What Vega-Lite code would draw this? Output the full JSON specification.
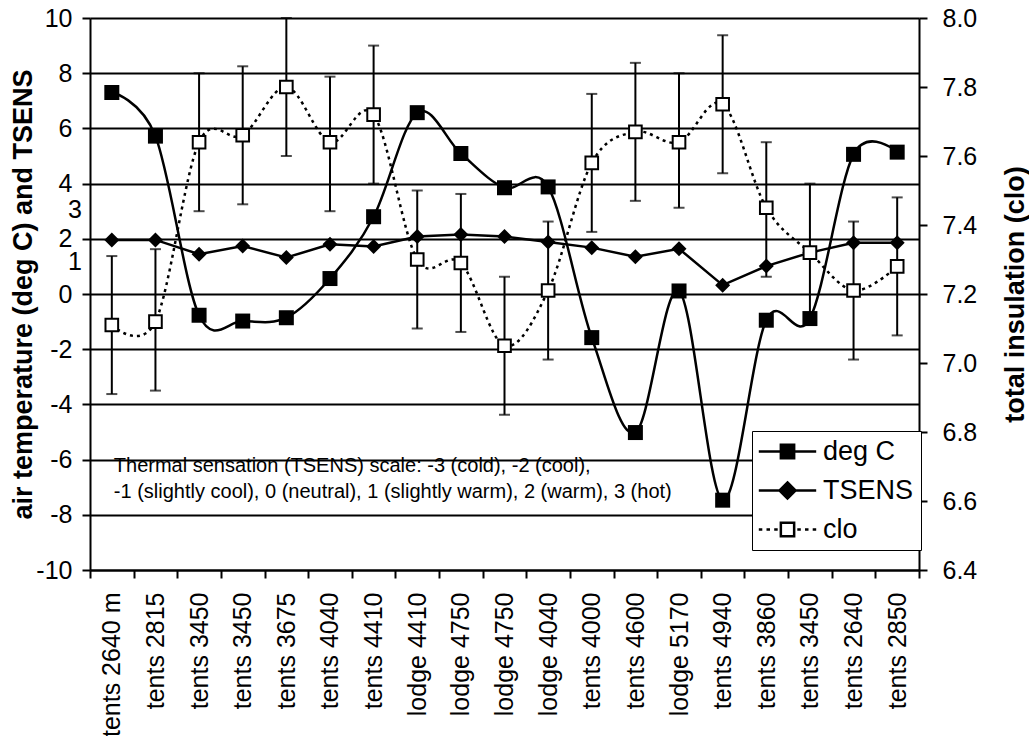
{
  "$schema": "https://vega.github.io/schema/vega-lite/v6.json",
  "width": 829,
  "height": 552,
  "autosize": {"type": "none"},
  "padding": {"left": 90, "top": 18, "right": 110, "bottom": 166},
  "background": "white",
  "config": {
    "font": "Liberation Sans",
    "view": {"stroke": null},
    "axis": {"labelColor": "black", "titleColor": "black", "domainColor": "black", "tickColor": "black", "labelFont": "Liberation Sans", "titleFont": "Liberation Sans"}
  },
  "datasets": {
    "main": [
      {"key": "00|tents 2640 m", "degC": 7.3, "tsens": 1.96, "clo": 7.11, "cloLo": 6.91, "cloHi": 7.31},
      {"key": "01|tents 2815", "degC": 5.72, "tsens": 1.96, "clo": 7.12, "cloLo": 6.92, "cloHi": 7.33},
      {"key": "02|tents 3450", "degC": -0.77, "tsens": 1.44, "clo": 7.64, "cloLo": 7.44, "cloHi": 7.84},
      {"key": "03|tents 3450", "degC": -0.98, "tsens": 1.74, "clo": 7.66, "cloLo": 7.46, "cloHi": 7.86},
      {"key": "04|tents 3675", "degC": -0.86, "tsens": 1.32, "clo": 7.8, "cloLo": 7.6, "cloHi": 8.0},
      {"key": "05|tents 4040", "degC": 0.56, "tsens": 1.8, "clo": 7.64, "cloLo": 7.44, "cloHi": 7.83},
      {"key": "06|tents 4410", "degC": 2.8, "tsens": 1.72, "clo": 7.72, "cloLo": 7.52, "cloHi": 7.92},
      {"key": "07|lodge 4410", "degC": 6.57, "tsens": 2.08, "clo": 7.3, "cloLo": 7.1, "cloHi": 7.5},
      {"key": "08|lodge 4750", "degC": 5.09, "tsens": 2.16, "clo": 7.29, "cloLo": 7.09, "cloHi": 7.49},
      {"key": "09|lodge 4750", "degC": 3.85, "tsens": 2.08, "clo": 7.05, "cloLo": 6.85, "cloHi": 7.25},
      {"key": "10|lodge 4040", "degC": 3.88, "tsens": 1.88, "clo": 7.21, "cloLo": 7.01, "cloHi": 7.41},
      {"key": "11|tents 4000", "degC": -1.58, "tsens": 1.68, "clo": 7.58, "cloLo": 7.38, "cloHi": 7.78},
      {"key": "12|tents 4600", "degC": -5.02, "tsens": 1.35, "clo": 7.67, "cloLo": 7.47, "cloHi": 7.87},
      {"key": "13|lodge 5170", "degC": 0.11, "tsens": 1.64, "clo": 7.64, "cloLo": 7.45, "cloHi": 7.84},
      {"key": "14|tents 4940", "degC": -7.47, "tsens": 0.32, "clo": 7.75, "cloLo": 7.55, "cloHi": 7.95},
      {"key": "15|tents 3860", "degC": -0.95, "tsens": 1.01, "clo": 7.45, "cloLo": 7.25, "cloHi": 7.64},
      {"key": "16|tents 3450", "degC": -0.89, "tsens": 1.5, "clo": 7.32, "cloLo": 7.12, "cloHi": 7.52},
      {"key": "17|tents 2640", "degC": 5.06, "tsens": 1.86, "clo": 7.21, "cloLo": 7.01, "cloHi": 7.41},
      {"key": "18|tents 2850", "degC": 5.14, "tsens": 1.86, "clo": 7.28, "cloLo": 7.08, "cloHi": 7.48}
    ]
  },
  "layer": [
    {
      "data": {"name": "main"},
      "encoding": {
        "x": {
          "field": "key", "type": "nominal", "sort": "ascending",
          "scale": {"type": "band", "paddingInner": 0, "paddingOuter": 0},
          "axis": {
            "title": null, "labelAngle": -90, "labelFontSize": 25, "labelPadding": 14,
            "labelExpr": "split(datum.label, '|')[1]",
            "tickBand": "extent", "tickSize": 8, "tickWidth": 2, "domainWidth": 2, "grid": false
          }
        }
      },
      "layer": [
        {
          "mark": {"type": "line", "interpolate": "cardinal", "color": "black", "strokeWidth": 2.5},
          "encoding": {
            "y": {
              "field": "degC", "type": "quantitative",
              "scale": {"domain": [-10, 10], "nice": false, "zero": false},
              "axis": {
                "title": "air temperature (deg C) and TSENS", "titleFontSize": 27, "titleFontWeight": "bold",
                "titleX": -67, "titleBaseline": "middle",
                "values": [-10, -8, -6, -4, -2, 0, 2, 4, 6, 8, 10],
                "labelExpr": "toString(datum.value)",
                "labelFontSize": 25, "labelPadding": 10, "tickSize": 8, "tickWidth": 2, "domainWidth": 2,
                "grid": true, "gridColor": "black", "gridWidth": 2, "gridOpacity": 1
              }
            }
          }
        },
        {
          "mark": {"type": "line", "interpolate": "linear", "color": "black", "strokeWidth": 2.5},
          "encoding": {"y": {"field": "tsens", "type": "quantitative"}}
        },
        {
          "mark": {"type": "point", "shape": "square", "filled": true, "color": "black", "size": 225, "opacity": 1},
          "encoding": {"y": {"field": "degC", "type": "quantitative"}}
        },
        {
          "mark": {"type": "point", "shape": "diamond", "filled": true, "color": "black", "size": 225, "opacity": 1},
          "encoding": {"y": {"field": "tsens", "type": "quantitative"}}
        },
        {
          "data": {"values": [
            {"key": "00|tents 2640 m", "v": -6.23, "t": "Thermal sensation (TSENS) scale: -3 (cold), -2 (cool),"},
            {"key": "00|tents 2640 m", "v": -7.17, "t": "-1 (slightly cool), 0 (neutral), 1 (slightly warm), 2 (warm), 3 (hot)"}
          ]},
          "mark": {"type": "text", "align": "left", "baseline": "middle", "fontSize": 20, "font": "Liberation Sans", "color": "black", "xOffset": 2},
          "encoding": {
            "y": {"field": "v", "type": "quantitative"},
            "text": {"field": "t", "type": "nominal"}
          }
        },
        {
          "data": {"values": [
            {"key": "00|tents 2640 m", "v": 3.06, "t": "3"},
            {"key": "00|tents 2640 m", "v": 1.15, "t": "1"}
          ]},
          "mark": {"type": "text", "align": "right", "baseline": "middle", "fontSize": 25, "font": "Liberation Sans", "color": "black", "xOffset": -30},
          "encoding": {
            "y": {"field": "v", "type": "quantitative"},
            "text": {"field": "t", "type": "nominal"}
          }
        },
        {
          "data": {"values": [
            {"key": "00|tents 2640 m", "v": 0, "s": "deg C"},
            {"key": "00|tents 2640 m", "v": 0, "s": "TSENS"},
            {"key": "00|tents 2640 m", "v": 0, "s": "clo"}
          ]},
          "mark": {"type": "point", "filled": true, "opacity": 0, "strokeWidth": 2.5, "size": 196},
          "encoding": {
            "y": {"field": "v", "type": "quantitative"},
            "shape": {
              "field": "s", "type": "nominal",
              "scale": {
                "domain": ["deg C", "TSENS", "clo"],
                "range": [
                  "M-4.1,0H4.1M-0.95,-0.95H0.95V0.95H-0.95Z",
                  "M-4.1,0H4.1M0,-1.15L1.15,0L0,1.15L-1.15,0Z",
                  "M-4.1,0H-3.6M-3.0,0H-2.5M-1.9,0H-1.4M1.4,0H1.9M2.5,0H3.0M3.6,0H4.1M-0.95,-0.95H0.95V0.95H-0.95Z"
                ]
              },
              "legend": {
                "title": null, "orient": "none", "legendX": 662, "legendY": 413,
                "labelFontSize": 27, "labelFont": "Liberation Sans", "labelColor": "black",
                "symbolSize": 196, "symbolStrokeWidth": 2.5, "symbolOpacity": 1,
                "padding": 7, "rowPadding": 11, "symbolOffset": 15, "labelOffset": 22,
                "strokeColor": "black", "fillColor": "white"
              }
            },
            "fill": {
              "field": "s", "type": "nominal",
              "scale": {"domain": ["deg C", "TSENS", "clo"], "range": ["black", "black", "white"]}
            },
            "stroke": {
              "field": "s", "type": "nominal",
              "scale": {"domain": ["deg C", "TSENS", "clo"], "range": ["black", "black", "black"]}
            }
          }
        }
      ]
    },
    {
      "data": {"name": "main"},
      "encoding": {
        "x": {"field": "key", "type": "nominal", "sort": "ascending"}
      },
      "layer": [
        {
          "mark": {"type": "rule", "color": "black", "strokeWidth": 2},
          "encoding": {
            "y": {
              "field": "cloLo", "type": "quantitative",
              "scale": {"domain": [6.4, 8.0], "nice": false, "zero": false},
              "axis": {
                "orient": "right", "title": "total insulation (clo)", "titleAngle": 270, "titleFontSize": 27, "titleFontWeight": "bold",
                "titleX": 96, "titleBaseline": "middle",
                "values": [6.4, 6.6, 6.8, 7.0, 7.2, 7.4, 7.6, 7.8, 8.0], "format": ".1f",
                "labelFontSize": 25, "labelPadding": 15, "tickSize": 8, "tickWidth": 2, "domainWidth": 2, "grid": false
              }
            },
            "y2": {"field": "cloHi"}
          }
        },
        {
          "mark": {"type": "tick", "color": "black", "thickness": 2, "size": 11, "orient": "horizontal"},
          "encoding": {"y": {"field": "cloLo", "type": "quantitative"}}
        },
        {
          "mark": {"type": "tick", "color": "black", "thickness": 2, "size": 11, "orient": "horizontal"},
          "encoding": {"y": {"field": "cloHi", "type": "quantitative"}}
        },
        {
          "mark": {"type": "line", "interpolate": "cardinal", "color": "black", "strokeWidth": 2.5, "strokeDash": [3, 4]},
          "encoding": {"y": {"field": "clo", "type": "quantitative"}}
        },
        {
          "mark": {"type": "point", "shape": "square", "filled": true, "fill": "white", "stroke": "black", "strokeWidth": 2, "size": 160, "opacity": 1},
          "encoding": {"y": {"field": "clo", "type": "quantitative"}}
        }
      ]
    }
  ],
  "resolve": {"scale": {"y": "independent"}}
}
